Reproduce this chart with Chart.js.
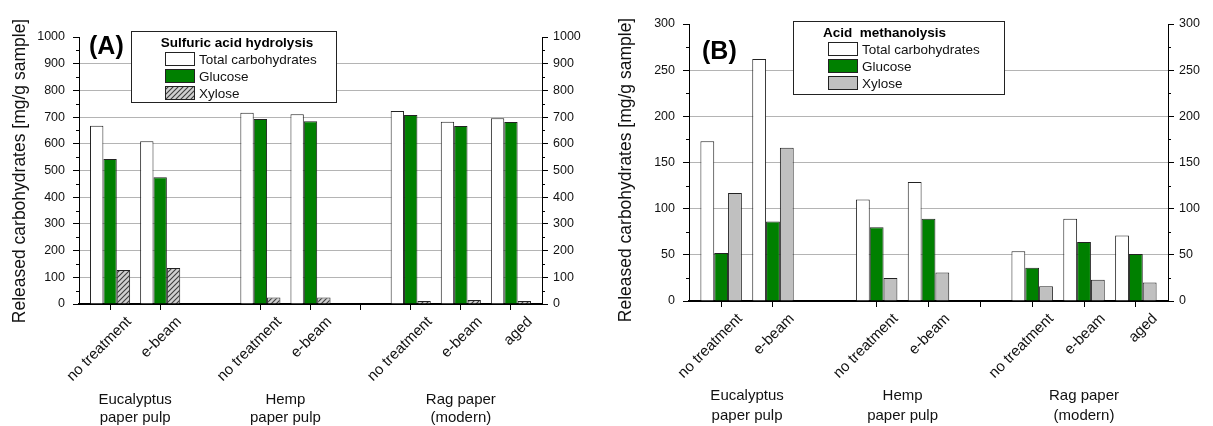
<!DOCTYPE html>
<html>
<head>
<meta charset="utf-8">
<script src="https://cdn.jsdelivr.net/npm/chart.js@4.4.1/dist/chart.umd.min.js"></script>
<style>
  body { margin: 0; background: #fff; }
  #wrap { position: relative; width: 1213px; height: 426px; }
  canvas { position: absolute; top: 0; }
</style>
</head>
<body>
<div id="wrap">
  <canvas id="chartA" width="600" height="426" style="left:0"></canvas>
  <canvas id="chartB" width="613" height="426" style="left:600px"></canvas>
</div>
<script>
// sample slots on the x axis, empty strings are the gaps between materials
const categories = ['no treatment', 'e-beam', '', 'no treatment', 'e-beam', '', 'no treatment', 'e-beam', 'aged'];
const tickSlots = [0, 1, 3, 4, 5, 6, 7, 8];
const materials = [['Eucalyptus', 'paper pulp'], ['Hemp', 'paper pulp'], ['Rag paper', '(modern)']];
const materialSlots = [[0, 1], [3, 4], [6, 8]];
const seriesNames = ['Total carbohydrates', 'Glucose', 'Xylose'];
const yTitle = 'Released carbohydrates [mg/g sample]';

// (A) sulfuric acid hydrolysis [mg/g sample]
const sulfTotal   = [668, 610, null, 716, 711, null, 723, 683, 696];
const sulfGlucose = [543, 475, null, 693, 684, null, 708, 667, 682];
const sulfXylose  = [127, 135, null, 24, 24, null, 11, 15, 11];

// (B) acid methanolysis [mg/g sample]
const methTotal   = [173, 262, null, 110, 129, null, 54, 89, 71];
const methGlucose = [52, 86, null, 80, 89, null, 36, 64, 51];
const methXylose  = [117, 166, null, 25, 31, null, 16, 23, 20];

const FONT = '"Liberation Sans", Arial, sans-serif';
Chart.defaults.font.family = FONT;
Chart.defaults.color = '#111';

// hatched fill for xylose in panel A
function hatch() {
  const c = document.createElement('canvas');
  c.width = 5; c.height = 5;
  const g = c.getContext('2d');
  g.fillStyle = '#d0d0d0';
  g.fillRect(0, 0, 5, 5);
  g.strokeStyle = '#3c3c3c';
  g.lineWidth = 1.1;
  g.beginPath();
  g.moveTo(0, 5); g.lineTo(5, 0);
  g.moveTo(-1, 1); g.lineTo(1, -1);
  g.moveTo(4, 6); g.lineTo(6, 4);
  g.stroke();
  return g.createPattern(c, 'repeat');
}

const toPoints = (arr) => arr.map((v, i) => ({ x: i, y: v })).filter(p => p.y !== null);

// minor ticks, axis title, panel tag, material names and the boxed legend
const decor = {
  id: 'decor',
  afterDraw(chart, args, o) {
    const { ctx, chartArea: area, scales } = chart;
    const x = scales.x, y = scales.y;
    ctx.save();
    ctx.strokeStyle = '#000';
    ctx.lineWidth = 1;
    for (let v = o.minorStep; v < y.max; v += o.minorStep * 2) {
      const py = Math.round(y.getPixelForValue(v)) + 0.5;
      ctx.beginPath();
      ctx.moveTo(area.left - 3, py); ctx.lineTo(area.left, py);
      ctx.moveTo(area.right, py); ctx.lineTo(area.right + 3, py);
      ctx.stroke();
    }

    // rotated y title
    ctx.fillStyle = '#111';
    ctx.font = '17.5px ' + FONT;
    ctx.textAlign = 'center';
    ctx.textBaseline = 'middle';
    ctx.translate(o.titleX, o.titleY);
    ctx.rotate(-Math.PI / 2);
    ctx.fillText(yTitle, 0, 0);
    ctx.setTransform(1, 0, 0, 1, 0, 0);

    ctx.fillStyle = '#000';
    ctx.font = 'bold 25px ' + FONT;
    ctx.textAlign = 'left';
    ctx.fillText(o.tag, o.tagX, o.tagY);

    ctx.fillStyle = '#111';
    ctx.font = '15px ' + FONT;
    ctx.textAlign = 'center';
    materials.forEach((lines, i) => {
      const [a, b] = materialSlots[i];
      const px = x.getPixelForValue((a + b) / 2);
      lines.forEach((t, j) => ctx.fillText(t, px, area.bottom + o.groupY + j * o.groupGap));
    });

    const L = o.legend;
    ctx.fillStyle = '#fff';
    ctx.fillRect(L.x, L.y, L.w, L.h);
    ctx.strokeStyle = '#222';
    ctx.strokeRect(L.x + 0.5, L.y + 0.5, L.w, L.h);
    ctx.fillStyle = '#000';
    ctx.font = 'bold 13.5px ' + FONT;
    ctx.textAlign = L.titleAlign;
    ctx.fillText(L.title, L.titleX, L.titleY);
    ctx.font = '13.5px ' + FONT;
    ctx.textAlign = 'left';
    chart.data.datasets.forEach((ds, i) => {
      const ry = L.rowY + i * L.rowGap;
      ctx.fillStyle = ds.backgroundColor;
      ctx.fillRect(L.swX, ry - 7, 30, 14);
      ctx.strokeStyle = '#222';
      ctx.strokeRect(L.swX + 0.5, ry - 6.5, 29, 13);
      ctx.fillStyle = '#111';
      ctx.fillText(ds.label, L.swX + 34, ry + 1);
    });
    ctx.restore();
  }
};

function makeChart(id, p) {
  const colors = ['#ffffff', '#008000', p.xyloseFill];
  const series = [p.total, p.glucose, p.xylose];
  return new Chart(document.getElementById(id), {
    type: 'bar',
    data: {
      datasets: series.map((s, i) => ({
        label: seriesNames[i],
        data: toPoints(s),
        backgroundColor: colors[i],
        borderColor: '#222',
        borderWidth: 1,
        barPercentage: 1,
        categoryPercentage: 0.8
      }))
    },
    options: {
      responsive: false,
      animation: false,
      layout: { padding: { top: p.top, left: 0, right: 0, bottom: 0 } },
      plugins: {
        legend: { display: false },
        tooltip: { enabled: false },
        decor: p.decor
      },
      scales: {
        x: {
          type: 'linear',
          min: -0.62,
          max: 8.62,
          offset: false,
          afterBuildTicks: (scale) => { scale.ticks = tickSlots.map(v => ({ value: v })); },
          afterFit: (scale) => { scale.height = p.xHeight; },
          grid: { offset: false, drawOnChartArea: false, tickLength: 6, tickColor: '#000' },
          border: { color: '#000', width: 2 },
          ticks: {
            autoSkip: false,
            minRotation: 45,
            maxRotation: 45,
            padding: 3,
            labelOffset: 19,
            font: { size: 15 },
            callback: (v) => categories[v] || ''
          }
        },
        y: {
          min: 0,
          max: p.yMax,
          afterFit: (scale) => { scale.width = p.leftW; },
          ticks: { stepSize: p.yStep, padding: 8, font: { size: 12.5 }, callback: (v) => String(v) },
          grid: {
            color: (c) => (c.tick.value === 0 || c.tick.value === p.yMax) ? 'rgba(0,0,0,0)' : '#b4b4b4',
            tickColor: '#000',
            tickLength: 6
          },
          border: { color: '#000', width: 1 }
        },
        y2: {
          position: 'right',
          min: 0,
          max: p.yMax,
          afterFit: (scale) => { scale.width = p.rightW; },
          ticks: { stepSize: p.yStep, padding: 5, font: { size: 12.5 }, callback: (v) => String(v) },
          grid: { drawOnChartArea: false, tickColor: '#000', tickLength: 6 },
          border: { color: '#000', width: 1 }
        }
      }
    },
    plugins: [decor]
  });
}

makeChart('chartA', {
  total: sulfTotal, glucose: sulfGlucose, xylose: sulfXylose,
  xyloseFill: hatch(),
  yMax: 1000, yStep: 100,
  top: 37, leftW: 79, rightW: 58, xHeight: 122,
  decor: {
    minorStep: 50,
    titleX: 20.5, titleY: 171,
    tag: '(A)', tagX: 89, tagY: 47,
    groupY: 96, groupGap: 18,
    legend: {
      x: 131, y: 31, w: 205, h: 71,
      title: 'Sulfuric acid hydrolysis', titleAlign: 'center', titleX: 237, titleY: 43,
      swX: 165, rowY: 59, rowGap: 17
    }
  }
});

makeChart('chartB', {
  total: methTotal, glucose: methGlucose, xylose: methXylose,
  xyloseFill: '#c0c0c0',
  yMax: 300, yStep: 50,
  top: 24, leftW: 89, rightW: 45, xHeight: 125,
  decor: {
    minorStep: 25,
    titleX: 26.5, titleY: 170,
    tag: '(B)', tagX: 102, tagY: 52,
    groupY: 95, groupGap: 20,
    legend: {
      x: 193, y: 21, w: 211, h: 73,
      title: 'Acid  methanolysis', titleAlign: 'left', titleX: 223, titleY: 33,
      swX: 228, rowY: 49, rowGap: 17
    }
  }
});
</script>
</body>
</html>
